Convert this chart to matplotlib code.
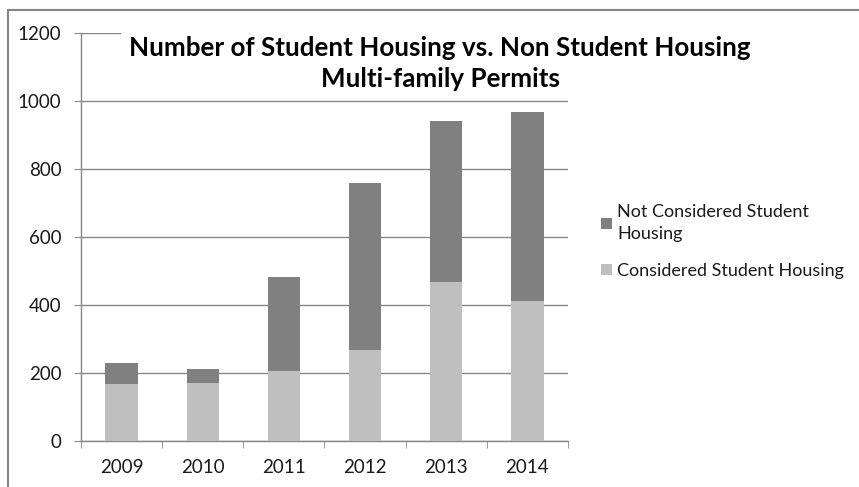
import matplotlib
matplotlib.use("Agg")
import matplotlib.pyplot as plt
import matplotlib.patches as mpatches
import numpy as np

years = ["2009", "2010", "2011", "2012", "2013", "2014"]
considered = [169, 172, 206, 267, 467, 413]
not_considered = [59, 40, 275, 493, 474, 554]
series_names = ["Considered Student Housing", "Not Considered Student\nHousing"]
yticks = [0, 200, 400, 600, 800, 1000, 1200]

plt.rcParams['font.family'] = ['Lato', 'DejaVu Sans']

fig = plt.figure(figsize=(8.59, 4.87), dpi=100)
ax = fig.add_axes([81/859, 1-441/487, (568-81)/859, (441-33)/487])

x = np.arange(len(years))
c_light = '#bfbfbf'
c_dark = '#808080'
grid_c = '#868686'

b1 = ax.bar(x, considered, width=0.4, color=c_light, zorder=3, label=series_names[0])
b2 = ax.bar(x, not_considered, bottom=considered, width=0.4, color=c_dark, zorder=3, label=series_names[1])

ax.set_xlim(-0.5, len(years)-0.5)
ax.set_ylim(0, 1200)
ax.set_yticks(yticks)
ax.set_yticklabels([str(v) for v in yticks], fontsize=13.5, color='#1a1a1a')
ax.yaxis.grid(True, color=grid_c, lw=1, zorder=0)
ax.set_axisbelow(True)

ax.set_xticks(x)
ax.set_xticklabels(years, fontsize=13.5, color='#1a1a1a')
ax.set_xticks(np.arange(-0.5, len(years)), minor=True)
ax.tick_params(axis='x', which='major', length=0, pad=13)
ax.tick_params(axis='x', which='minor', length=5, color=grid_c, direction='out')
ax.tick_params(axis='y', length=5, color=grid_c, direction='out', pad=9)

for s in ['top', 'right']:
    ax.spines[s].set_visible(False)
for s in ['left', 'bottom']:
    ax.spines[s].set_color(grid_c)
    ax.spines[s].set_linewidth(1)

h, l = ax.get_legend_handles_labels()
leg = fig.legend(h[::-1], l[::-1], loc='upper left', bbox_to_anchor=(594/859, 1-197/487),
                 frameon=False, fontsize=13, handlelength=0.6, handleheight=0.6,
                 handletextpad=0.3, labelspacing=1.15, borderaxespad=0)
for t in leg.get_texts():
    t.set_linespacing(1.45)
    t.set_color('#1a1a1a')

fig.text(440/859, 1-63.5/487, "Number of Student Housing vs. Non Student Housing\nMulti-family Permits",
         ha='center', va='center', fontsize=18.7, fontweight='bold', color='black',
         linespacing=1.38, zorder=5,
         bbox=dict(facecolor='white', edgecolor='none', pad=6))

fig.patches.append(mpatches.Rectangle((8/859, -0.5), 2, 1-10/487+0.5, transform=fig.transFigure,
                                      fill=False, edgecolor=grid_c, lw=1.5))

fig.savefig("out.png", dpi=100)
